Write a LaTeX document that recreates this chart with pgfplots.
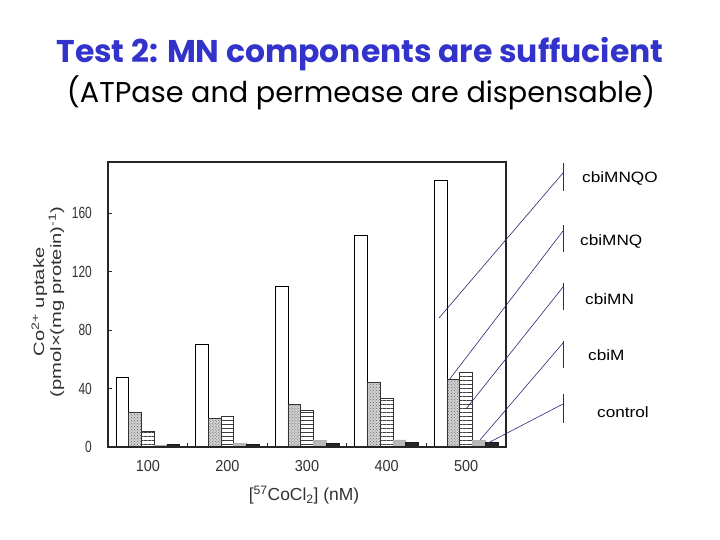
\documentclass[border=0pt]{standalone}
\usepackage{pgfplots}
\pgfplotsset{compat=1.18}
\usepackage{fontspec}
\setmainfont{Liberation Sans}
\newfontfamily\titlefont{Poppins}
\usetikzlibrary{patterns,patterns.meta}

\definecolor{titleblue}{RGB}{51,51,204}
\definecolor{leader}{RGB}{40,40,120}
\definecolor{txt}{RGB}{50,50,50}

\tikzdeclarepattern{
  name=myhlines,
  type=uncolored,
  bounding box={(0pt,-1pt) and (4pt,3pt)},
  tile size={(4pt,4pt)},
  code={\draw[line width=1.1pt] (0pt,0pt) -- (4pt,0pt);}
}

\begin{document}
\begin{tikzpicture}[x=1bp,y=1bp]
\path[use as bounding box, fill=white] (0,0) rectangle (720,540);
\node[anchor=base, text=titleblue, inner sep=0pt] at (360,477)
  {\resizebox{607bp}{!}{\titlefont\bfseries Test 2: MN components are suffucient}};
\node[anchor=base, inner sep=0pt] at (361,437)
  {\resizebox{588bp}{!}{\titlefont (ATPase and permease are dispensable)}};

\begin{axis}[
  at={(108bp,93bp)}, anchor=south west, scale only axis,
  width=398bp, height=285bp,
  xmin=0.5, xmax=5.5, ymin=0, ymax=195,
  ybar=0pt, bar width=0.16,
  axis on top,
  axis line style={line width=1.6bp, draw=black!85},
  xtick={1,2,3,4,5}, xticklabels={100,200,300,400,500},
  major x tick style={draw=none},
  minor xtick={1.5,2.5,3.5,4.5},
  minor tick length=4bp,
  minor x tick style={line width=1.2bp, black!85},
  ytick={0,40,80,120,160}, yticklabels={0,40,80,120,160},
  major tick length=3.5bp,
  major y tick style={line width=1bp, black!85},
  tick align=inside,
  tick pos=left,
  xticklabel style={font=\fontsize{14.5}{15}\selectfont, text=txt, anchor=north, inner sep=0pt, yshift=-13bp, yscale=1.1},
  yticklabel style={font=\fontsize{12}{13}\selectfont, text=txt, anchor=east, inner sep=0pt, xshift=-16bp, yscale=1.35},
  xlabel={[\textsuperscript{57}CoCl\textsubscript{2}] (nM)},
  xlabel style={font=\fontsize{17.5}{20}\selectfont, text=txt, at={(axis description cs:0.4925,-0.189)}, anchor=base, inner sep=0pt},
  ylabel={Co\textsuperscript{2+} uptake\\(pmol×(mg protein)\textsuperscript{-1})},
  ylabel style={font=\fontsize{15}{17}\selectfont, text=txt, align=center, at={(axis description cs:-0.151,0.509)}, anchor=center, inner sep=0pt, xscale=1.35},
]
% cbiMNQO
\addplot[draw=black, fill=white, line width=0.8bp] coordinates {(1,47.5)(2,70)(3,110)(4,144.5)(5,182.6)};
% cbiMNQ
\addplot[draw=black!80, fill=gray!35, line width=0.8bp, postaction={pattern=crosshatch dots, pattern color=gray!80!black}] coordinates {(1,23.5)(2,19.4)(3,29.3)(4,44)(5,46)};
% cbiMN
\addplot[draw=black!80, fill=white, line width=0.8bp, postaction={pattern=myhlines, pattern color=black!75}] coordinates {(1,11)(2,20.8)(3,25)(4,33)(5,51)};
% cbiM
\addplot[draw=gray!60, fill=gray!55, line width=0.6bp] coordinates {(1,1.4)(2,2.5)(3,4.3)(4,4.8)(5,4.6)};
% control
\addplot[draw=black!90, fill=black!85, line width=0.6bp] coordinates {(1,2)(2,2)(3,2.5)(4,3.2)(5,3)};
\end{axis}

% annotation leaders
\begin{scope}[leader, line width=0.6bp]
\draw (563,377) -- (563,349);
\draw (563,315) -- (563,288);
\draw (563,257) -- (563,230);
\draw (563,199) -- (563,172);
\draw (563,146) -- (563,117);
\draw (563,367) -- (439,222);
\draw (563,309) -- (449,160);
\draw (563,253) -- (466,131);
\draw (563,197) -- (480,100);
\draw (563,136) -- (488,97);
\end{scope}
\begin{scope}[every node/.style={anchor=base west, inner sep=0pt, font=\fontsize{15}{16}\selectfont, xscale=1.15}]
\node at (582,357) {cbiMNQO};
\node at (580,294) {cbiMNQ};
\node at (585,235) {cbiMN};
\node at (588,179) {cbiM};
\node at (597,122) {control};
\end{scope}
\end{tikzpicture}
\end{document}
